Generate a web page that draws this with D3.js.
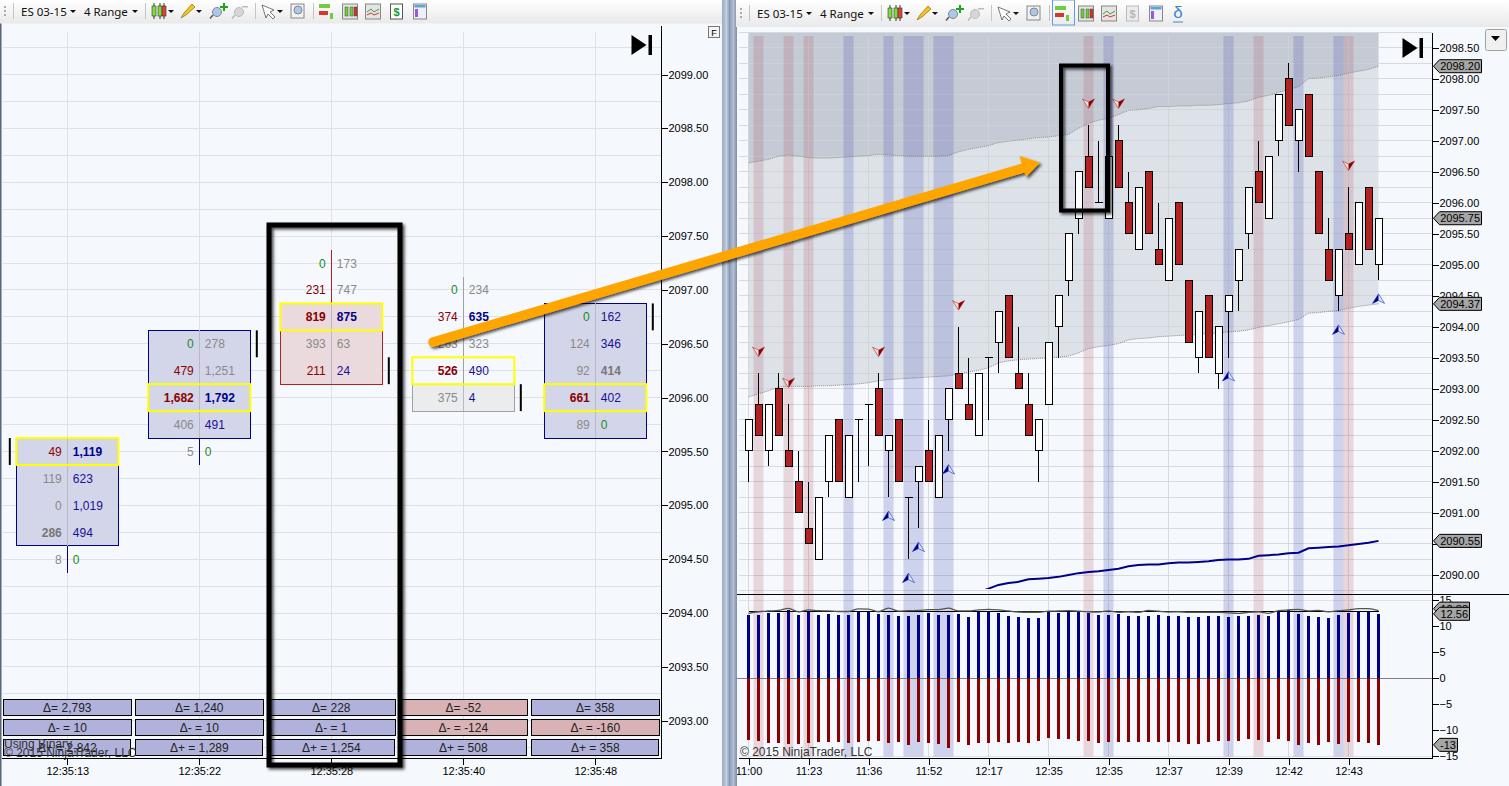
<!DOCTYPE html>
<html>
<head>
<meta charset="utf-8">
<script src="https://cdn.jsdelivr.net/npm/d3@7"></script>
<style>
  html, body { margin: 0; padding: 0; background: #f5f8fd; overflow: hidden; }
  text { font-family: "Liberation Sans", Arial, sans-serif; }
  .tool { font-family: "Noto Sans", "Open Sans", sans-serif; font-size: 11.5px; fill: #111; }
</style>
</head>
<body>
<svg id="vis" width="1509" height="786"></svg>
<script>
// footprint chart (left pane)
var foot_times = ["12:35:13", "12:35:22", "12:35:28", "12:35:40", "12:35:48"];
var foot_first_price = [2095.5, 2096.5, 2097.25, 2097, 2096.75];
var foot_bid = [
  [49, 119, 0, 286, 8],
  [0, 479, 1682, 406, 5],
  [0, 231, 819, 393, 211],
  [0, 374, 263, 526, 375],
  [0, 124, 92, 661, 89]
];
var foot_ask = [
  [1119, 623, 1019, 494, 0],
  [278, 1251, 1792, 491, 0],
  [173, 747, 875, 63, 24],
  [234, 635, 323, 490, 4],
  [162, 346, 414, 402, 0]
];
var foot_poc = [0, 2, 2, 3, 3];
var foot_body_first = [0, 0, 2, 4, 0];
var foot_body_last = [3, 3, 4, 4, 4];
var foot_close_row = [0, 0, 4, 4, 0];
var foot_dir = ["up", "up", "down", "flat", "up"];
var delta_total = ["2,793", "1,240", "228", "-52", "358"];
var delta_minus = ["10", "10", "1", "-124", "-160"];
var delta_plus = ["2,842", "1,289", "1,254", "508", "358"];

// candle chart (right pane)
var candle_open = [2092,2092.75,2092,2093,2092,2091.5,2090.75,2090.25,2091.5,2092.5,2091.25,2092.5,2092.75,2093,2092,2092.5,2091.25,2091.5,2092,2091.25,2092.5,2093.25,2092.75,2092.25,2093.5,2093.75,2094.5,2093.25,2092.75,2092,2092.75,2094,2094.75,2095.75,2096.75,2096,2095.75,2097,2096,2095.25,2096.5,2095.25,2094.75,2096,2094.75,2093.5,2094.5,2093.25,2094.25,2094.75,2095.5,2096.5,2095.75,2097,2098,2097,2097.75,2096.5,2095.25,2094.5,2095.5,2095,2096.25,2095];
var candle_close = [2092.5,2092.25,2092.75,2092.25,2091.75,2091,2090.5,2091.25,2092.25,2091.5,2092.25,2092.5,2092.75,2092.25,2092.25,2091.5,2091.25,2091.75,2091.5,2092.25,2093,2093,2092.5,2093.25,2093.5,2094.25,2093.5,2093,2092.25,2092.5,2093.75,2094.5,2095.5,2096.5,2096.25,2096,2096.75,2096.25,2095.5,2096.25,2095.5,2095,2095.75,2095,2093.75,2094.25,2093.5,2094,2094.5,2095.25,2096.25,2096,2096.75,2097.75,2097.25,2097.5,2096.75,2095.5,2094.75,2095.25,2095.25,2096,2095.25,2095.75];
var candle_high = [2092.5,2093.25,2092.75,2093.25,2092.75,2092,2091.5,2091.25,2092.25,2092.5,2092.25,2092.5,2092.75,2093.25,2092.25,2092.5,2091.25,2091.75,2092.5,2092.25,2093,2094,2093.5,2093.25,2093.5,2094.25,2094.5,2094,2093.25,2092.5,2093.75,2094.5,2095.5,2096.5,2097.25,2097,2096.75,2097.25,2096.5,2096.25,2096.5,2096,2095.75,2096,2094.75,2094.25,2094.5,2094,2094.5,2095.25,2096.25,2097,2096.75,2097.75,2098.25,2097.5,2097.75,2096.5,2095.75,2095.25,2096.25,2096,2096.25,2095.75];
var candle_low = [2091.5,2092.25,2091.75,2092.25,2091.75,2091,2090.5,2090.25,2091.25,2091.5,2091.25,2091.5,2091.75,2092.25,2091.25,2091.5,2090.25,2090.75,2091.5,2091.25,2092,2093,2092.5,2092.25,2092.5,2093.25,2093.5,2093,2092.25,2091.5,2092.75,2093.5,2094.5,2095.5,2096.25,2096,2095.75,2096.25,2095.5,2095.25,2095.5,2095,2094.75,2095,2093.75,2093.25,2093.5,2093,2093.5,2094.25,2095.25,2096,2095.75,2096.75,2097.25,2096.5,2096.75,2095.5,2094.75,2094.25,2095.25,2095,2095.25,2094.75];
var band_upper = [2096.64,2096.67,2096.7,2096.75,2096.77,2096.75,2096.73,2096.72,2096.72,2096.73,2096.74,2096.75,2096.76,2096.78,2096.77,2096.76,2096.75,2096.75,2096.75,2096.75,2096.76,2096.82,2096.86,2096.89,2096.92,2096.97,2096.99,2097.01,2097.03,2097.05,2097.06,2097.08,2097.1,2097.2,2097.28,2097.33,2097.36,2097.42,2097.49,2097.5,2097.52,2097.55,2097.55,2097.56,2097.56,2097.57,2097.57,2097.58,2097.6,2097.61,2097.64,2097.7,2097.73,2097.78,2097.82,2097.87,2098,2098.01,2098.03,2098.05,2098.09,2098.12,2098.15,2098.2];
var band_lower = [2092.87,2092.92,2092.97,2093.03,2093.04,2093.04,2093.04,2093.05,2093.05,2093.06,2093.07,2093.08,2093.1,2093.13,2093.15,2093.16,2093.17,2093.18,2093.19,2093.2,2093.21,2093.24,2093.27,2093.3,2093.34,2093.42,2093.45,2093.47,2093.48,2093.49,2093.5,2093.51,2093.53,2093.58,2093.65,2093.68,2093.7,2093.73,2093.79,2093.81,2093.82,2093.84,2093.85,2093.86,2093.87,2093.88,2093.89,2093.9,2093.92,2093.93,2093.95,2093.99,2094.02,2094.05,2094.08,2094.12,2094.22,2094.23,2094.25,2094.26,2094.3,2094.33,2094.35,2094.37];
var slow_line_start = 23;
var slow_line = [2089.72,2089.78,2089.84,2089.87,2089.89,2089.93,2089.94,2089.95,2089.97,2090,2090.03,2090.05,2090.06,2090.08,2090.1,2090.14,2090.16,2090.17,2090.17,2090.19,2090.2,2090.2,2090.21,2090.22,2090.24,2090.25,2090.25,2090.26,2090.31,2090.32,2090.33,2090.35,2090.36,2090.43,2090.44,2090.45,2090.46,2090.48,2090.5,2090.52,2090.55];
var sell_bars = [1, 4, 13, 21, 34, 37, 60];
var sell_prices = [2093.6, 2093.1, 2093.6, 2094.35, 2097.6, 2097.6, 2096.6];
var buy_bars = [14, 16, 17, 20, 48, 59, 63];
var buy_prices = [2090.95, 2089.95, 2090.45, 2091.7, 2093.2, 2093.95, 2094.45];
var red_bands = [1, 4, 6, 34, 51, 60];
var blue_bands = [10, 14, 16, 17, 19, 20, 36, 48, 55, 59];
var time_bars = [0, 6, 12, 18, 24, 30, 36, 42, 48, 54, 60];
var time_labels = ["11:00", "11:23", "11:36", "11:52", "12:17", "12:35", "12:35", "12:37", "12:39", "12:42", "12:43"];
var price_tags = [2098.2, 2095.75, 2094.37, 2090.55];
var vol_pos = [12.2,12.2,12.6,12.6,13.1,12.2,12.8,12.2,12.4,12.2,12.2,12.9,12.8,12.4,12.2,12,12,12.2,12.6,12.2,12.2,12.4,11.8,12.8,12.8,12.6,12,11.8,11.6,11.6,12.8,12.6,12.9,12.8,12.6,12.2,12.2,12.4,12,12,12,12.2,12,12,11.8,11.8,12,12,11.8,12,12,12.2,12,12.9,13.1,12.4,12,11.8,11.6,12.2,12.6,12.9,12.9,12.4];
var vol_neg = [-11.9,-12.05,-12.4,-12.4,-12.6,-12.6,-12.4,-12.2,-12.2,-12.2,-12.4,-12.2,-12.05,-12.05,-12.4,-12.2,-12.8,-12.2,-12.4,-12.6,-13.4,-12.2,-12.8,-12.4,-12.4,-12.2,-12.4,-12.2,-12.4,-12.05,-11.5,-11.7,-11.7,-12.05,-12.05,-12.4,-12.2,-12.2,-12.2,-12.2,-12.2,-12.2,-12.2,-12.2,-12.6,-12.6,-12.2,-12.05,-12.05,-12.05,-11.7,-11.9,-12.2,-11.7,-12.05,-12.8,-12.4,-12.8,-12.2,-12.6,-12.2,-12.2,-12.4,-12.8];
var vol_wiggle = [12.5,12.8,12.95,13.05,13.45,12.8,13.15,13,12.95,12.85,12.85,13.35,13.3,12.8,13.5,12.9,13,13.05,13.2,13.2,13.5,12.95,12.95,13.15,13.25,13.15,12.95,12.75,12.7,12.7,12.9,12.95,13,12.9,12.8,12.75,12.95,12.7,12.8,12.7,13.05,12.9,12.75,12.8,12.7,12.7,12.7,12.7,12.6,12.5,12.7,12.8,12.5,13,13.15,13.25,12.95,13.05,12.8,13,13.15,13.4,13.4,13];
var vol_level = 12.8;
var vol_tags = [[13.4, "12.88"], [12.4, "12.56"], [-12.8, "-13"]];

var bg = "#f5f8fd", grid_col = "#dfe1e5", grid_on_shade = "#d0d3d7";
var svg = d3.select("#vis");
var defs = svg.append("defs");

var shadow = defs.append("filter").attr("id", "shadow")
  .attr("x", "-10%").attr("y", "-10%").attr("width", "125%").attr("height", "125%");
shadow.append("feDropShadow").attr("dx", 2).attr("dy", 2).attr("stdDeviation", 1.5)
  .attr("flood-color", "#000").attr("flood-opacity", 0.7);
var thr = defs.append("linearGradient").attr("id", "toolbar").attr("x2", 0).attr("y2", 1);
thr.append("stop").attr("offset", 0).attr("stop-color", "#ffffff");
thr.append("stop").attr("offset", 1).attr("stop-color", "#e9e9e9");
var split = defs.append("linearGradient").attr("id", "split");
[["0", "#9aa9c2"], [".3", "#c3cede"], [".5", "#8a9ab4"], [".75", "#b4c0d4"], ["1", "#7f8da6"]].forEach(function(s) {
  split.append("stop").attr("offset", s[0]).attr("stop-color", s[1]);
});
defs.append("clipPath").attr("id", "price-clip").append("rect")
  .attr("x", 737).attr("y", 33).attr("width", 696).attr("height", 556);

svg.append("rect").attr("width", 1509).attr("height", 786).attr("fill", bg);

// ---- left pane
var y_left = d3.scaleLinear().domain([2093, 2099]).range([720.7, 74.6]);
var x_left = d3.scalePoint().domain(foot_times).range([67.3, 595.3]);
var left = svg.append("g");

var left_grid = d3.range(2092.75, 2099.6, 0.25);
left.append("g").selectAll("line").data(left_grid).enter().append("line")
  .attr("x1", 3).attr("x2", 661)
  .attr("y1", function(d) { return y_left(d); })
  .attr("y2", function(d) { return y_left(d); })
  .attr("stroke", grid_col).attr("shape-rendering", "crispEdges");
left.append("g").selectAll("line").data(foot_times).enter().append("line")
  .attr("x1", function(d) { return x_left(d); })
  .attr("x2", function(d) { return x_left(d); })
  .attr("y1", 32).attr("y2", 758)
  .attr("stroke", grid_col).attr("shape-rendering", "crispEdges");

var dir_fill = { up: "#d3d5e8", down: "#ebdadd", flat: "#ebecee" };
var dir_line = { up: "#00008b", down: "#b22222", flat: "#a0a0a0" };
var half_row = (y_left(2096) - y_left(2096.25)) / 2;

// text styles, by column and row
var green = "#228b22", grey = "#8a8a8a", dkred = "#8b0000", dkblue = "#1a0f9a";
var bid_style = [
  [[dkred, 400], [grey, 400], [grey, 400], ["#777", 700], [grey, 400]],
  [[green, 400], [dkred, 400], [dkred, 700], [grey, 400], [grey, 400]],
  [[green, 400], [dkred, 400], [dkred, 700], [grey, 400], [dkred, 400]],
  [[green, 400], [dkred, 400], [grey, 400], [dkred, 700], [grey, 400]],
  [[green, 400], [grey, 400], [grey, 400], [dkred, 700], [grey, 400]]
];
var ask_style = [
  [["#00008b", 700], [dkblue, 400], [dkblue, 400], [dkblue, 400], [green, 400]],
  [[grey, 400], [grey, 400], ["#00008b", 700], [dkblue, 400], [green, 400]],
  [[grey, 400], [grey, 400], ["#00008b", 700], [grey, 400], [dkblue, 400]],
  [[grey, 400], ["#00008b", 700], [grey, 400], [dkblue, 400], [dkblue, 400]],
  [[dkblue, 400], [dkblue, 400], ["#777", 700], [dkblue, 400], [green, 400]]
];

foot_times.forEach(function(t, c) {
  var cx = x_left(t);
  var row_y = function(r) { return y_left(foot_first_price[c] - r * 0.25); };
  var g = left.append("g");

  // wick
  g.append("line").attr("x1", cx).attr("x2", cx)
    .attr("y1", row_y(0) - half_row)
    .attr("y2", row_y(foot_bid[c].length - 1) + half_row)
    .attr("stroke", dir_line[foot_dir[c]]).attr("shape-rendering", "crispEdges");

  // body
  g.append("rect").attr("x", cx - 51).attr("width", 102)
    .attr("y", row_y(foot_body_first[c]) - half_row)
    .attr("height", row_y(foot_body_last[c]) - row_y(foot_body_first[c]) + 2 * half_row)
    .attr("fill", dir_fill[foot_dir[c]]).attr("stroke", dir_line[foot_dir[c]])
    .attr("shape-rendering", "crispEdges");

  // vertical grid shows through the body
  g.append("line").attr("x1", cx).attr("x2", cx)
    .attr("y1", row_y(foot_body_first[c]) - half_row)
    .attr("y2", row_y(foot_body_last[c]) + half_row)
    .attr("stroke", "#b8b9c8").attr("shape-rendering", "crispEdges");

  // point of control
  g.append("rect").attr("x", cx - 51).attr("width", 102)
    .attr("y", row_y(foot_poc[c]) - half_row)
    .attr("height", 2 * half_row)
    .attr("fill", "none").attr("stroke", "#ffff00").attr("stroke-width", 2);

  // close tick
  var tick_x = c == 0 ? cx - 57.5 : cx + 57.5;
  g.append("line").attr("x1", tick_x).attr("x2", tick_x)
    .attr("y1", row_y(foot_close_row[c]) - half_row)
    .attr("y2", row_y(foot_close_row[c]) + half_row)
    .attr("stroke", "#000").attr("stroke-width", 2);

  g.selectAll(".bid").data(foot_bid[c]).enter().append("text")
    .attr("x", cx - 5.5)
    .attr("y", function(d, r) { return row_y(r) + 4.5; })
    .attr("text-anchor", "end").attr("font-size", 12)
    .attr("fill", function(d, r) { return bid_style[c][r][0]; })
    .attr("font-weight", function(d, r) { return bid_style[c][r][1]; })
    .text(function(d) { return d3.format(",")(d); });
  g.selectAll(".ask").data(foot_ask[c]).enter().append("text")
    .attr("x", cx + 5.5)
    .attr("y", function(d, r) { return row_y(r) + 4.5; })
    .attr("font-size", 12)
    .attr("fill", function(d, r) { return ask_style[c][r][0]; })
    .attr("font-weight", function(d, r) { return ask_style[c][r][1]; })
    .text(function(d) { return d3.format(",")(d); });
});

// delta boxes
var delta_rows = [
  { y: 699.5, h: 16, w: 128, label: "\u0394= ", vals: delta_total },
  { y: 719.5, h: 16, w: 128, label: "\u0394- = ", vals: delta_minus },
  { y: 739.5, h: 16, w: 127, label: "\u0394+ = ", vals: delta_plus }
];
delta_rows.forEach(function(row) {
  row.vals.forEach(function(v, c) {
    var cx = x_left(foot_times[c]);
    var neg = v.charAt(0) == "-";
    left.append("rect").attr("x", cx - 64).attr("y", row.y)
      .attr("width", row.w).attr("height", row.h)
      .attr("fill", neg ? "#d8b2b4" : "#b0b2dc").attr("stroke", "#000")
      .attr("shape-rendering", "crispEdges");
    left.append("text").attr("x", cx).attr("y", row.y + 12.5)
      .attr("text-anchor", "middle").attr("font-size", 12).attr("fill", "#222")
      .text(row.label + v);
  });
});
left.append("text").attr("x", 4).attr("y", 748).attr("font-size", 12).attr("fill", "#333").text("Using Binary");
left.append("text").attr("x", 4).attr("y", 757).attr("font-size", 12).attr("fill", "#333").text("\u00a9 2015 NinjaTrader, LLC");

// left axes
left.append("line").attr("x1", 661.5).attr("x2", 661.5).attr("y1", 26).attr("y2", 758.5)
  .attr("stroke", "#000").attr("shape-rendering", "crispEdges");
left.append("line").attr("x1", 2).attr("x2", 662).attr("y1", 758.5).attr("y2", 758.5)
  .attr("stroke", "#000").attr("shape-rendering", "crispEdges");
var left_axis = left.append("g").attr("transform", "translate(661.5,0)")
  .call(d3.axisRight(y_left).tickValues(d3.range(2093, 2099.5, 0.5)).tickFormat(d3.format(".2f")).tickSize(6).tickPadding(1));
left_axis.select(".domain").remove();
var left_x_axis = left.append("g").attr("transform", "translate(0,758.5)")
  .call(d3.axisBottom(x_left).tickSize(6).tickPadding(3));
left_x_axis.select(".domain").remove();

// ---- right pane
var x_right = d3.scaleLinear().domain([0, 63]).range([748.5, 1378.5]);
var y_right = d3.scaleLinear().domain([2090, 2098.5]).range([575, 47.6]);
var y_vol = d3.scaleLinear().domain([-15, 15]).range([756.3, 600.3]);
var right = svg.append("g");

// shaded channel
var band_top = y_right.invert(33);
var upper_area = d3.area()
  .x(function(d, i) { return x_right(i); })
  .y0(function() { return y_right(band_top); })
  .y1(function(d) { return y_right(d); });
var mid_area = d3.area()
  .x(function(d, i) { return x_right(i); })
  .y0(function(d) { return y_right(d); })
  .y1(function(d, i) { return y_right(band_lower[i]); });
right.append("path").attr("d", upper_area(band_upper)).attr("fill", "#6e7c8c").attr("fill-opacity", 0.36);
right.append("path").attr("d", mid_area(band_upper)).attr("fill", "#7d8b9b").attr("fill-opacity", 0.2);

// grid sits on top of the shading
var right_grid = d3.range(2089.75, 2098.8, 0.25);
right.append("g").selectAll("line").data(right_grid).enter().append("line")
  .attr("x1", 739).attr("x2", 1432)
  .attr("y1", function(d) { return y_right(d); })
  .attr("y2", function(d) { return y_right(d); })
  .attr("stroke", grid_on_shade).attr("stroke-opacity", 0.85).attr("shape-rendering", "crispEdges");
right.append("g").selectAll("line").data(time_bars).enter().append("line")
  .attr("x1", function(d) { return x_right(d); })
  .attr("x2", function(d) { return x_right(d); })
  .attr("y1", 36).attr("y2", 758)
  .attr("stroke", grid_on_shade).attr("stroke-opacity", 0.85).attr("shape-rendering", "crispEdges");
[15, -15].forEach(function(v) {
  right.append("line").attr("x1", 739).attr("x2", 1432)
    .attr("y1", y_vol(v)).attr("y2", y_vol(v))
    .attr("stroke", grid_col).attr("shape-rendering", "crispEdges");
});

var dot_line = d3.line()
  .x(function(d, i) { return x_right(i); })
  .y(function(d) { return y_right(d); });
[band_upper, band_lower].forEach(function(s) {
  right.append("path").attr("d", dot_line(s)).attr("fill", "none")
    .attr("stroke", "#8c8c8c").attr("stroke-dasharray", "1 1");
});

// highlighted bars
right.append("g").selectAll("rect").data(red_bands).enter().append("rect")
  .attr("x", function(d) { return x_right(d) - 5; })
  .attr("y", 36).attr("width", 10).attr("height", 720.5)
  .attr("fill", "#b4505f").attr("fill-opacity", 0.2);
right.append("g").selectAll("rect").data(blue_bands).enter().append("rect")
  .attr("x", function(d) { return x_right(d) - 5; })
  .attr("y", 36).attr("width", 10).attr("height", 720.5)
  .attr("fill", "#4a4fb0").attr("fill-opacity", 0.22);

// volume pane
right.append("line").attr("x1", 737).attr("x2", 1432).attr("y1", y_vol(0)).attr("y2", y_vol(0))
  .attr("stroke", "#808080").attr("shape-rendering", "crispEdges");
right.append("g").selectAll("rect").data(vol_pos).enter().append("rect")
  .attr("x", function(d, i) { return x_right(i) - 1.5; })
  .attr("y", function(d) { return y_vol(d); })
  .attr("width", 3)
  .attr("height", function(d) { return y_vol(0) - y_vol(d); })
  .attr("fill", "#00008b").attr("shape-rendering", "crispEdges");
right.append("g").selectAll("rect").data(vol_neg).enter().append("rect")
  .attr("x", function(d, i) { return x_right(i) - 1.5; })
  .attr("y", y_vol(0))
  .attr("width", 3)
  .attr("height", function(d) { return y_vol(d) - y_vol(0); })
  .attr("fill", "#8b0000").attr("shape-rendering", "crispEdges");
right.append("line").attr("x1", x_right(0)).attr("x2", x_right(63))
  .attr("y1", y_vol(vol_level)).attr("y2", y_vol(vol_level))
  .attr("stroke", "#000").attr("shape-rendering", "crispEdges");
right.append("path")
  .attr("d", d3.line().curve(d3.curveMonotoneX)
    .x(function(d, i) { return x_right(i); })
    .y(function(d) { return y_vol(d); })(vol_wiggle))
  .attr("fill", "none").attr("stroke", "#555").attr("stroke-width", 1.3);

// slow average, cut off by the pane below
right.append("path").attr("clip-path", "url(#price-clip)")
  .attr("d", d3.line()
    .x(function(d, i) { return x_right(i + slow_line_start); })
    .y(function(d) { return y_right(d); })(slow_line))
  .attr("fill", "none").attr("stroke", "#00008b").attr("stroke-width", 2);

// candles
var candles = right.append("g").selectAll("g").data(candle_open).enter().append("g");
candles.append("line")
  .attr("x1", function(d, i) { return x_right(i); })
  .attr("x2", function(d, i) { return x_right(i); })
  .attr("y1", function(d, i) { return y_right(candle_high[i]); })
  .attr("y2", function(d, i) { return y_right(candle_low[i]); })
  .attr("stroke", "#000").attr("shape-rendering", "crispEdges");
candles.append("rect")
  .attr("x", function(d, i) { return x_right(i) - 3.5; })
  .attr("width", 7)
  .attr("y", function(d, i) { return y_right(Math.max(d, candle_close[i])); })
  .attr("height", function(d, i) { return Math.max(Math.abs(y_right(d) - y_right(candle_close[i])), 0.01); })
  .attr("fill", function(d, i) { return candle_close[i] < d ? "#b22222" : "#fff"; })
  .attr("stroke", "#000").attr("shape-rendering", "crispEdges");

// signal arrows
sell_bars.forEach(function(b, k) {
  var g = right.append("g").attr("transform", "translate(" + x_right(b) + "," + y_right(sell_prices[k]) + ")");
  g.append("path").attr("d", "M-6,-4.5L0,-1.5L6,-4.5L0,5Z").attr("fill", "#f3e4dc").attr("stroke", "#c0504d").attr("stroke-width", 0.8);
  g.append("path").attr("d", "M0,-1.5L6,-4.5L0,5Z").attr("fill", "#8b0000");
});
buy_bars.forEach(function(b, k) {
  var g = right.append("g").attr("transform", "translate(" + x_right(b) + "," + y_right(buy_prices[k]) + ")");
  g.append("path").attr("d", "M-6,4.5L0,1.5L6,4.5L0,-5Z").attr("fill", "#e4e8f8").attr("stroke", "#3a5fd0").attr("stroke-width", 0.8);
  g.append("path").attr("d", "M0,1.5L-6,4.5L0,-5Z").attr("fill", "#00008b");
});

// right axes
right.append("line").attr("x1", 1432.5).attr("x2", 1432.5).attr("y1", 33).attr("y2", 758.5)
  .attr("stroke", "#000").attr("shape-rendering", "crispEdges");
right.append("line").attr("x1", 739).attr("x2", 1433).attr("y1", 758.5).attr("y2", 758.5)
  .attr("stroke", "#000").attr("shape-rendering", "crispEdges");
right.append("line").attr("x1", 737).attr("x2", 1509).attr("y1", 594.5).attr("y2", 594.5)
  .attr("stroke", "#000").attr("shape-rendering", "crispEdges");
var right_axis = right.append("g").attr("transform", "translate(1432.5,0)")
  .call(d3.axisRight(y_right).tickValues(d3.range(2090, 2098.6, 0.5)).tickFormat(d3.format(".2f")).tickSize(6).tickPadding(1));
right_axis.select(".domain").remove();
var vol_axis = right.append("g").attr("transform", "translate(1432.5,0)")
  .call(d3.axisRight(y_vol).tickValues(d3.range(-15, 16, 5)).tickSize(6).tickPadding(1));
vol_axis.select(".domain").remove();
var x_axis = right.append("g").attr("transform", "translate(0,758.5)")
  .call(d3.axisBottom(x_right).tickValues(time_bars).tickFormat(function(d, i) { return time_labels[i]; }).tickSize(6).tickPadding(3));
x_axis.select(".domain").remove();

[left_axis, left_x_axis, right_axis, vol_axis, x_axis].forEach(function(a) {
  a.selectAll("text").attr("font-family", "Liberation Sans, Arial, sans-serif").attr("font-size", 11).attr("fill", "#000");
  a.selectAll("line").attr("shape-rendering", "crispEdges");
});

right.append("text").attr("x", 740).attr("y", 756).attr("font-size", 12).attr("fill", "#333").text("\u00a9 2015 NinjaTrader, LLC");

function tag(y, text, w) {
  var g = right.append("g").attr("transform", "translate(1433.5," + y + ")");
  g.append("path").attr("d", "M0,0L6,-6.5H" + w + "V6.5H6Z").attr("fill", "#a6a6a6").attr("stroke", "#000");
  g.append("text").attr("x", w - 1.5).attr("y", 4).attr("text-anchor", "end").attr("font-size", 11).attr("fill", "#000").text(text);
}
price_tags.forEach(function(p) { tag(y_right(p), d3.format(".2f")(p), 48); });
vol_tags.forEach(function(t) { tag(y_vol(t[0]), t[1], t[1].length > 3 ? 36 : 24); });

// ---- chrome
function chart_end_icon(x, y) {
  svg.append("path").attr("d", "M" + x + "," + y + "l15,10l-15,10Z").attr("fill", "#000");
  svg.append("rect").attr("x", x + 17).attr("y", y).attr("width", 3.5).attr("height", 20).attr("fill", "#000");
}
chart_end_icon(631.5, 35);
chart_end_icon(1402.5, 38);
svg.append("rect").attr("x", 708.5).attr("y", 26.5).attr("width", 11).attr("height", 11).attr("fill", "#f4f4f4").attr("stroke", "#777");
svg.append("text").attr("x", 714).attr("y", 35.5).attr("text-anchor", "middle").attr("font-size", 9).attr("fill", "#000").text("F");

svg.append("rect").attr("x", 722).attr("y", 0).attr("width", 15).attr("height", 786).attr("fill", "url(#split)");
svg.append("rect").attr("x", 0).attr("y", 0).attr("width", 1.5).attr("height", 786).attr("fill", "#56647c");

function caret(g, x, y) {
  g.append("path").attr("d", "M" + (x - 3) + "," + (y - 1.5) + "h6l-3,3Z").attr("fill", "#111");
}
function toolbar(x0, dy, w, h) {
  var g = svg.append("g");
  g.append("rect").attr("x", x0).attr("y", 0).attr("width", w).attr("height", h).attr("fill", "url(#toolbar)");
  var t = g.append("g").attr("transform", "translate(" + x0 + "," + dy + ")");
  d3.range(3).forEach(function(i) {
    t.append("rect").attr("x", 4).attr("y", 6 + i * 4).attr("width", 2).attr("height", 2).attr("fill", "#aaa");
  });
  [13, 145, 255, 313].forEach(function(x) {
    t.append("line").attr("x1", x + 0.5).attr("x2", x + 0.5).attr("y1", 3).attr("y2", 19).attr("stroke", "#c4c4c4");
  });
  t.append("text").attr("class", "tool").attr("x", 21).attr("y", 15.5).text("ES 03-15");
  caret(t, 73, 11.5);
  t.append("text").attr("class", "tool").attr("x", 84).attr("y", 15.5).text("4 Range");
  caret(t, 135, 11.5);
  // candle picker
  [[152, "#7fdc3a"], [158, "#7fdc3a"], [162, "#e0413a"]].forEach(function(c) {
    t.append("line").attr("x1", c[0] + 2).attr("x2", c[0] + 2).attr("y1", 3).attr("y2", 19).attr("stroke", "#333");
    t.append("rect").attr("x", c[0]).attr("y", 6).attr("width", 4).attr("height", 10).attr("fill", c[1]).attr("stroke", "#333").attr("stroke-width", 0.6);
  });
  caret(t, 171, 11.5);
  // pencil
  t.append("path").attr("d", "M181,18l3,-5l8,-9l3,3l-9,8Z").attr("fill", "#f5c518").attr("stroke", "#8a6a10").attr("stroke-width", 0.7);
  caret(t, 199, 11.5);
  // zoom in and out
  t.append("circle").attr("cx", 217).attr("cy", 12).attr("r", 4.5).attr("fill", "#a9c8ea").attr("stroke", "#888");
  t.append("line").attr("x1", 213).attr("y1", 15).attr("x2", 210).attr("y2", 18.5).attr("stroke", "#555").attr("stroke-width", 1.5);
  t.append("path").attr("d", "M220,6h3v-3h2v3h3v2h-3v3h-2v-3h-3Z").attr("fill", "#18a818");
  t.append("circle").attr("cx", 239).attr("cy", 12).attr("r", 4.5).attr("fill", "#d6d6d6").attr("stroke", "#bbb");
  t.append("line").attr("x1", 235).attr("y1", 15).attr("x2", 232).attr("y2", 18.5).attr("stroke", "#bbb").attr("stroke-width", 1.5);
  t.append("rect").attr("x", 242).attr("y", 6).attr("width", 6).attr("height", 1.5).attr("fill", "#bbb");
  // pointer
  t.append("path").attr("d", "M262,5l4,13l2,-4l5,5l2,-2l-5,-5l4,-2Z").attr("fill", "#fff").attr("stroke", "#555").attr("stroke-width", 0.8);
  caret(t, 280, 11.5);
  t.append("rect").attr("x", 291).attr("y", 4).attr("width", 13).attr("height", 14).attr("fill", "#f2f2f2").attr("stroke", "#888");
  t.append("circle").attr("cx", 298).attr("cy", 10).attr("r", 4).attr("fill", "#a9c8ea").attr("stroke", "#888");
  // chart style buttons
  t.append("rect").attr("x", 319).attr("y", 4).attr("width", 11).attr("height", 4).attr("fill", "#6fcf3a");
  t.append("rect").attr("x", 319).attr("y", 11).attr("width", 9).attr("height", 4).attr("fill", "#d8352e");
  t.append("rect").attr("x", 330).attr("y", 13).attr("width", 3).attr("height", 6).attr("fill", "#6fcf3a");
  t.append("rect").attr("x", 342.5).attr("y", 4).attr("width", 15).attr("height", 15).attr("fill", "#e4e4e4").attr("stroke", "#888");
  [[345, "#6fcf3a"], [350, "#6fcf3a"], [354, "#d8352e"]].forEach(function(c) {
    t.append("rect").attr("x", c[0]).attr("y", 7).attr("width", 3).attr("height", 9).attr("fill", c[1]).attr("stroke", "#333").attr("stroke-width", 0.4);
  });
  t.append("rect").attr("x", 365.5).attr("y", 4).attr("width", 15).attr("height", 15).attr("fill", "#e4e4e4").attr("stroke", "#888");
  t.append("path").attr("d", "M367,12l4,-3l3,3l5,-3").attr("fill", "none").attr("stroke", "#3aa04a");
  t.append("path").attr("d", "M367,15l4,-2l3,2l5,-2").attr("fill", "none").attr("stroke", "#d8352e");
  t.append("rect").attr("x", 390.5).attr("y", 4).attr("width", 12).attr("height", 15).attr("fill", x0 == 0 ? "#fff" : "#ececec").attr("stroke", x0 == 0 ? "#555" : "#bbb");
  t.append("text").attr("x", 396.5).attr("y", 16).attr("text-anchor", "middle").attr("font-size", 11).attr("font-weight", 700).attr("fill", x0 == 0 ? "#129a2a" : "#b5b5b5").text("$");
  t.append("rect").attr("x", 413.5).attr("y", 4).attr("width", 13).attr("height", 15).attr("fill", "#eef0f8").attr("stroke", "#888");
  t.append("rect").attr("x", 414.5).attr("y", 5).attr("width", 11).attr("height", 2.5).attr("fill", "#5aa5e0");
  t.append("rect").attr("x", 415).attr("y", 9).attr("width", 3).attr("height", 8).attr("fill", "#9a5ad8");
  return t;
}
toolbar(0, 0, 722, 23.5);
var t_right = toolbar(736, 2, 773, 27);
t_right.append("rect").attr("x", 316.5).attr("y", -2).attr("width", 22).attr("height", 25).attr("fill", "none").attr("stroke", "#5a9fe0");
t_right.append("text").attr("x", 442).attr("y", 16).attr("text-anchor", "middle").attr("font-size", 17).attr("fill", "#3d86c6").text("\u03b4");
t_right.append("line").attr("x1", 437).attr("x2", 447).attr("y1", 20).attr("y2", 20).attr("stroke", "#3d86c6");

// scroll menu button
svg.append("rect").attr("x", 1485.5).attr("y", 29.5).attr("width", 21).attr("height", 21).attr("rx", 2)
  .attr("fill", "#f0f0f0").attr("stroke", "#a0a0a0");
svg.append("path").attr("d", "M1491,36h9l-4.5,5Z").attr("fill", "#000");

// ---- annotations drawn over the screenshot
var notes = svg.append("g").attr("filter", "url(#shadow)");
notes.append("rect").attr("x", 269).attr("y", 225).attr("width", 131).attr("height", 540)
  .attr("fill", "none").attr("stroke", "#000").attr("stroke-width", 5);
notes.append("rect").attr("x", 1061).attr("y", 65.5).attr("width", 47).attr("height", 145)
  .attr("fill", "none").attr("stroke", "#000").attr("stroke-width", 4);
notes.append("line").attr("x1", 433).attr("y1", 342).attr("x2", 1030).attr("y2", 166)
  .attr("stroke", "#ffa500").attr("stroke-width", 9.5).attr("stroke-linecap", "round");
notes.append("path").attr("d", "M1019.5,156L1040,162.5L1026,177Z").attr("fill", "#ffa500");
</script>
</body>
</html>
